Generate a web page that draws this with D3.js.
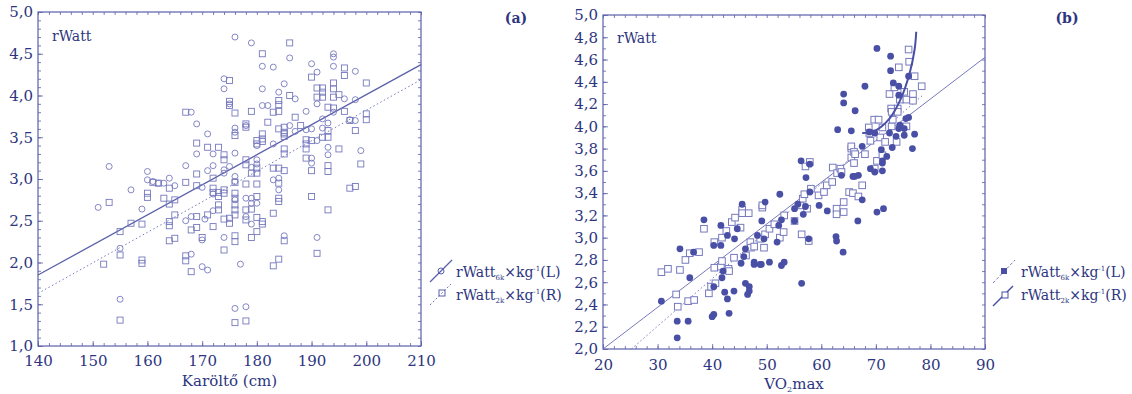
<!DOCTYPE html>
<html>
<head>
<meta charset="utf-8">
<script src="https://cdn.jsdelivr.net/npm/d3@7"></script>
<style>
  body { margin: 0; background: #fff; }
  svg text { font-family: "DejaVu Serif", serif; fill: #2d3580; }
</style>
</head>
<body>
<div id="chart"></div>
<script>
// ---- panel (a): rWatt vs Karöltő (cm) ----
const armO = [151,153,157,155,155,159,160,160,161,162,163,164,165,167,167,168,169,169,170,168,168,170,171,170,171,171,172,172,172,170.5,174,174,175,176,176,176,174,174,175,176,174,176,178,177,176,179,181,183,186,185,181,181,182,184,187,178,180,186,187,189,189,190,183,180,180,179,183,184,184,179,178,179,180,178,179,185,190,191,194,194,194,198,191,194,196,198,197,198,192,192,193,191,193,193,190,190,199,191,176,176,172];
const wattO = [2.66,3.15,2.87,2.17,1.56,2.64,3.09,2.99,2.97,2.95,2.95,3.01,2.92,3.16,2.50,3.80,3.66,3.30,2.90,2.55,2.10,1.95,1.91,2.27,3.54,3.10,3.16,3.30,2.62,2.52,4.20,4.08,3.90,3.61,3.56,3.31,3.11,3.07,3.15,3.03,2.30,1.45,1.47,1.98,4.70,4.63,4.35,4.34,4.45,4.14,4.08,3.88,3.88,4.04,3.96,3.64,3.40,3.64,3.57,3.81,3.59,3.60,3.42,3.23,3.18,3.14,2.99,3.01,2.87,2.77,2.77,2.71,2.71,2.55,2.46,2.32,4.38,4.28,4.50,4.46,4.35,4.29,3.90,3.80,3.96,3.95,3.71,3.70,3.72,3.61,3.67,3.46,3.38,3.29,3.25,3.19,3.34,2.30,2.97,2.75,2.82];
const armS = [153,152,157,155,155,155,159,159,159,160,160,161,163,164,165,164,165,164,164,165,164,167,167,169,169,169,169,169,168,167,167,168,170,171,172,172,172,173,173,173,173,173,172,171,175,175,175,176,176,174,174,174,174,176,176,176,176,176,176,174,175,175,174,176,176,176,178,181,186,179,184,184,183,184,186,187,182,178,178,180,180,181,181,181,184,185,185,185,185,188,189,189,190,185,185,178,178,179,180,180,183,184,185,184,184,184,178,180,180,178,179,180,178,181,181,183,180,179,185,184,183,190,196,196,200,191,192,192,192,191,194,194,194,195,193,194,196,197,200,200,198,193,192,193,195,189,190,193,193,199,197,198,190,193,191,189,162];
const wattS = [2.72,1.98,2.47,2.37,2.09,1.31,2.46,2.03,1.99,2.83,2.78,2.96,2.77,2.89,2.75,2.70,2.57,2.49,2.44,2.29,2.26,2.96,3.80,3.43,3.06,2.92,2.42,2.55,2.39,2.08,2.02,1.89,2.30,3.38,3.01,2.89,2.84,3.38,2.84,2.79,2.69,2.63,2.43,2.57,4.18,3.93,3.88,3.79,3.52,3.29,3.23,2.87,2.83,2.96,2.83,2.77,2.69,2.63,2.57,2.52,2.53,2.47,2.15,2.32,2.25,1.28,1.30,4.50,4.63,3.81,3.94,3.89,3.80,3.81,4.00,3.74,3.68,3.66,3.62,3.46,3.42,3.54,3.48,3.45,3.60,3.62,3.56,3.54,3.51,3.64,3.47,3.42,3.46,3.36,3.30,3.23,3.17,3.07,3.07,3.13,3.13,3.13,3.10,2.95,2.77,2.73,2.94,2.94,2.79,2.63,2.64,2.54,2.51,2.49,2.46,2.59,2.37,2.30,2.26,2.04,1.96,4.22,4.33,4.24,4.15,4.09,4.09,4.04,3.98,3.98,4.15,4.08,3.98,4.01,3.86,3.85,3.81,3.70,3.78,3.71,3.58,3.58,3.50,3.50,3.36,3.25,3.10,3.16,3.09,3.18,2.89,2.91,2.79,2.63,2.11,3.36,2.95];
const fitArmX = [140, 210];
const fitArmL = [1.85, 4.37];
const fitArmR = [1.63, 4.19];
const armXTicks = [140, 150, 160, 170, 180, 190, 200, 210];
const armYTicks = [1.0, 1.5, 2.0, 2.5, 3.0, 3.5, 4.0, 4.5, 5.0];

// ---- panel (b): rWatt vs VO2max ----
const vo2L = [30.7,33.6,33.6,34.1,35.6,35.9,36.6,38.5,40.0,40.3,40.3,40.3,41.6,41.6,42.0,41.8,42.3,42.8,42.8,43.1,44.0,44.1,44.6,45.3,45.5,45.8,46.1,46.1,46.8,46.8,46.5,47.7,47.7,48.3,48.8,49.0,49.1,49.5,49.7,50.5,51.9,52.2,52.4,52.7,52.7,53.2,55.1,55.1,55.7,56.3,56.4,56.7,57.1,57.2,57.9,57.9,57.7,59.6,61.1,62.7,62.8,63.0,63.7,64.0,64.1,64.1,65.5,65.8,66.1,66.2,66.8,66.7,67.5,67.5,68.0,68.8,69.0,69.8,69.8,70.2,70.2,71.0,71.2,71.2,71.2,71.4,72.0,72.5,72.7,72.7,73.0,73.2,73.7,74.2,74.2,74.2,74.4,75.2,75.2,75.5,76.0,76.0,76.7,77.1];
const wattL = [2.43,2.25,2.10,2.90,2.25,2.64,2.87,3.16,2.29,2.31,2.93,2.56,3.11,2.93,2.70,2.64,2.51,3.02,2.45,2.32,2.52,2.99,3.08,2.77,3.30,2.83,2.90,2.59,2.56,2.52,2.49,2.78,2.76,3.02,2.76,2.76,3.15,2.99,3.32,2.78,2.96,3.11,3.39,3.16,2.75,2.78,3.26,3.15,3.30,3.69,2.59,3.21,3.28,3.54,3.41,3.66,2.99,3.29,3.24,3.01,2.97,3.97,3.56,2.87,4.29,4.21,3.96,3.55,3.55,4.14,3.56,3.15,3.82,3.34,4.36,3.95,3.62,3.94,3.59,3.23,4.70,3.79,3.60,3.67,3.69,3.26,3.73,3.94,4.63,4.50,3.81,4.39,3.91,4.36,4.28,3.98,4.01,3.98,3.92,4.07,4.08,4.45,3.80,3.93];
const vo2R = [30.7,31.9,34.1,33.4,33.7,35.1,35.6,35.9,36.7,37.6,38.5,39.4,39.8,40.4,40.4,40.6,41.6,41.8,41.8,42.6,43.0,43.1,43.6,44.2,45.2,44.0,45.5,45.5,46.7,46.2,47.0,47.1,47.7,48.8,49.2,49.2,49.5,49.7,50.5,51.4,52.4,53.1,53.2,55.1,56.1,56.4,56.6,56.9,57.1,57.4,57.7,57.9,58.1,59.5,60.5,61.0,62.0,62.1,62.8,62.8,62.9,63.5,63.7,64.1,64.1,65.1,65.5,65.5,65.5,65.8,66.0,66.2,66.0,66.8,67.5,68.0,68.7,68.8,69.0,69.7,70.5,69.8,70.2,71.2,70.8,71.2,71.7,72.5,72.8,72.9,72.9,73.1,73.4,73.8,74.0,74.0,74.2,74.4,75.2,75.6,75.6,76.0,76.1,76.8,76.8,77.1,78.4];
const wattR = [2.69,2.72,2.71,2.49,2.38,2.80,2.43,2.86,2.44,2.87,3.08,2.50,2.56,2.96,2.73,2.59,2.74,2.79,3.00,3.06,2.72,2.70,3.14,3.18,3.09,2.82,3.25,3.22,3.22,2.84,2.96,2.91,2.92,2.99,3.27,3.29,2.91,3.03,3.08,3.12,3.00,3.05,3.20,3.15,3.29,3.03,3.35,3.39,3.64,3.26,2.97,3.68,3.44,3.38,3.41,3.47,3.50,3.63,3.26,3.21,3.58,3.62,3.59,3.32,3.23,3.41,3.80,3.82,3.72,3.40,3.77,3.75,3.67,3.37,3.47,3.75,3.99,3.94,3.87,4.06,4.06,3.62,3.69,3.99,3.90,3.74,3.86,4.29,4.16,4.13,4.00,4.06,4.35,3.86,4.16,4.13,4.53,4.24,4.31,4.24,4.00,4.69,4.58,4.29,4.23,4.45,4.36];
const fitVo2SolidX = [20, 90];
const fitVo2SolidY = [2.0, 4.62];
const fitVo2DotX = [25.2, 78.6];
const fitVo2DotY = [2.0, 4.28];
const curveVo2X = [67.5, 69.8, 72.5, 74.5, 76.2, 77.1, 77.4];
const curveVo2Y = [3.94, 3.96, 4.07, 4.24, 4.48, 4.69, 4.85];
const vo2XTicks = [20, 30, 40, 50, 60, 70, 80, 90];
const vo2YTicks = [2.0, 2.2, 2.4, 2.6, 2.8, 3.0, 3.2, 3.4, 3.6, 3.8, 4.0, 4.2, 4.4, 4.6, 4.8, 5.0];

const W = 1132, H = 394;
const frameCol = '#5b60aa';
const lightCol = '#7679bd';
const darkCol = '#4a4fa6';
const comma = d => d3.format('.1f')(d).replace('.', ',');

const svg = d3.select('#chart').append('svg')
  .attr('width', W)
  .attr('height', H);

function drawFrame(box, x, y, xTicks, yTicks, xMinor, yMinor) {
  const g = svg.append('g');
  g.append('rect')
    .attr('x', box.left).attr('y', box.top)
    .attr('width', box.right - box.left).attr('height', box.bottom - box.top)
    .attr('fill', 'none').attr('stroke', frameCol).attr('stroke-width', 1.2);

  // inward minor ticks on all four sides
  const sides = [
    [d3.axisBottom(x), `translate(0,${box.bottom})`, xMinor, -3],
    [d3.axisTop(x), `translate(0,${box.top})`, xMinor, -3],
    [d3.axisLeft(y), `translate(${box.left},0)`, yMinor, -3],
    [d3.axisRight(y), `translate(${box.right},0)`, yMinor, -3],
    [d3.axisBottom(x), `translate(0,${box.bottom})`, xTicks, -5],
    [d3.axisLeft(y), `translate(${box.left},0)`, yTicks, -5]
  ];
  sides.forEach(([ax, tr, vals, size]) => {
    const a = g.append('g').attr('transform', tr)
      .call(ax.tickValues(vals).tickSize(size).tickFormat(''));
    a.select('.domain').remove();
    a.selectAll('line').attr('stroke', frameCol).attr('stroke-width', 0.8);
  });

  // labels
  const xl = g.append('g').attr('transform', `translate(0,${box.bottom})`)
    .call(d3.axisBottom(x).tickValues(xTicks).tickSize(0).tickPadding(box.xPad));
  xl.select('.domain').remove();
  xl.selectAll('text').attr('font-size', 15).attr('font-family', null);

  const yl = g.append('g').attr('transform', `translate(${box.left},0)`)
    .call(d3.axisLeft(y).tickValues(yTicks).tickSize(0).tickPadding(5).tickFormat(comma));
  yl.select('.domain').remove();
  yl.selectAll('text').attr('font-size', 15).attr('font-family', null);
}

function legendText(x, y, sub, tag) {
  const t = svg.append('text').attr('x', x).attr('y', y).attr('font-size', 14);
  t.append('tspan').text('rWatt');
  t.append('tspan').attr('font-size', 7).attr('dy', 3).text(sub);
  t.append('tspan').attr('dy', -3).text('×kg');
  t.append('tspan').attr('font-size', 7).attr('dy', -6).text('-1');
  t.append('tspan').attr('dy', 6).text(tag);
}

// ===== panel (a) =====
const boxA = { left: 38, right: 421, top: 12, bottom: 346, xPad: 9 };
const xA = d3.scaleLinear().domain([140, 210]).range([boxA.left, boxA.right]);
const yA = d3.scaleLinear().domain([1, 5]).range([boxA.bottom, boxA.top]);
drawFrame(boxA, xA, yA, armXTicks, armYTicks, d3.range(140, 211, 2), d3.range(1, 5.01, 0.1));

const lineA = d3.line().x(d => xA(d[0])).y(d => yA(d[1]));
svg.append('path').datum(d3.zip(fitArmX, fitArmR))
  .attr('d', lineA).attr('fill', 'none').attr('stroke', lightCol)
  .attr('stroke-width', 1).attr('stroke-dasharray', '1.5,2.5');
svg.append('path').datum(d3.zip(fitArmX, fitArmL))
  .attr('d', lineA).attr('fill', 'none').attr('stroke', frameCol).attr('stroke-width', 1.3);

svg.append('g').selectAll('circle')
  .data(d3.zip(armO, wattO)).join('circle')
  .attr('cx', d => xA(d[0])).attr('cy', d => yA(d[1])).attr('r', 3)
  .attr('fill', 'none').attr('stroke', lightCol).attr('stroke-width', 0.9);
svg.append('g').selectAll('rect')
  .data(d3.zip(armS, wattS)).join('rect')
  .attr('x', d => xA(d[0]) - 3).attr('y', d => yA(d[1]) - 3)
  .attr('width', 6).attr('height', 6)
  .attr('fill', 'none').attr('stroke', lightCol).attr('stroke-width', 0.9);

svg.append('text').attr('x', 52).attr('y', 41).attr('font-size', 14).text('rWatt');
svg.append('text').attr('x', 516).attr('y', 23).attr('font-size', 14)
  .attr('font-weight', 'bold').attr('text-anchor', 'middle').text('(a)');
svg.append('text').attr('x', (boxA.left + boxA.right) / 2).attr('y', 386)
  .attr('font-size', 15).attr('text-anchor', 'middle').text('Karöltő (cm)');

// legend (a)
svg.append('line').attr('x1', 430).attr('y1', 282).attr('x2', 452).attr('y2', 260)
  .attr('stroke', frameCol).attr('stroke-width', 1.2);
svg.append('circle').attr('cx', 441).attr('cy', 271).attr('r', 3)
  .attr('fill', 'none').attr('stroke', frameCol);
legendText(456, 277, '6k', '(L)');
svg.append('line').attr('x1', 430).attr('y1', 305).attr('x2', 451).attr('y2', 284)
  .attr('stroke', lightCol).attr('stroke-dasharray', '2,2');
svg.append('rect').attr('x', 439).attr('y', 290).attr('width', 6).attr('height', 6)
  .attr('fill', 'none').attr('stroke', frameCol);
legendText(456, 300, '2k', '(R)');

// ===== panel (b) =====
const boxB = { left: 603, right: 985, top: 15, bottom: 349, xPad: 10 };
const xB = d3.scaleLinear().domain([20, 90]).range([boxB.left, boxB.right]);
const yB = d3.scaleLinear().domain([2, 5]).range([boxB.bottom, boxB.top]);
drawFrame(boxB, xB, yB, vo2XTicks, vo2YTicks, d3.range(20, 91, 2), d3.range(2, 5.01, 0.1));

const lineB = d3.line().x(d => xB(d[0])).y(d => yB(d[1]));
svg.append('path').datum(d3.zip(fitVo2DotX, fitVo2DotY))
  .attr('d', lineB).attr('fill', 'none').attr('stroke', lightCol)
  .attr('stroke-width', 1).attr('stroke-dasharray', '1.5,2.5');
svg.append('path').datum(d3.zip(fitVo2SolidX, fitVo2SolidY))
  .attr('d', lineB).attr('fill', 'none').attr('stroke', lightCol).attr('stroke-width', 1);

svg.append('g').selectAll('rect')
  .data(d3.zip(vo2R, wattR)).join('rect')
  .attr('x', d => xB(d[0]) - 3.3).attr('y', d => yB(d[1]) - 3.3)
  .attr('width', 6.6).attr('height', 6.6)
  .attr('fill', '#fff').attr('stroke', lightCol).attr('stroke-width', 1);
svg.append('g').selectAll('circle')
  .data(d3.zip(vo2L, wattL)).join('circle')
  .attr('cx', d => xB(d[0])).attr('cy', d => yB(d[1])).attr('r', 3.4)
  .attr('fill', darkCol);

svg.append('path').datum(d3.zip(curveVo2X, curveVo2Y))
  .attr('d', lineB.curve(d3.curveCatmullRom)).attr('fill', 'none')
  .attr('stroke', darkCol).attr('stroke-width', 2);

svg.append('text').attr('x', 617).attr('y', 43).attr('font-size', 14).text('rWatt');
svg.append('text').attr('x', 1067).attr('y', 23).attr('font-size', 14)
  .attr('font-weight', 'bold').attr('text-anchor', 'middle').text('(b)');
const vt = svg.append('text').attr('x', (boxB.left + boxB.right) / 2).attr('y', 389)
  .attr('font-size', 15).attr('text-anchor', 'middle');
vt.append('tspan').text('VO');
vt.append('tspan').attr('font-size', 8).attr('dy', 3).text('2');
vt.append('tspan').attr('dy', -3).text('max');

// legend (b)
svg.append('line').attr('x1', 993).attr('y1', 283).attr('x2', 1015).attr('y2', 260)
  .attr('stroke', lightCol).attr('stroke-dasharray', '3,2');
svg.append('rect').attr('x', 1001).attr('y', 268).attr('width', 6).attr('height', 6)
  .attr('fill', darkCol);
legendText(1021, 277, '6k', '(L)');
svg.append('line').attr('x1', 993).attr('y1', 306).attr('x2', 1013).attr('y2', 286)
  .attr('stroke', darkCol).attr('stroke-width', 1.5);
svg.append('rect').attr('x', 1002).attr('y', 292).attr('width', 6).attr('height', 6)
  .attr('fill', '#fff').attr('stroke', darkCol);
legendText(1021, 300, '2k', '(R)');
</script>
</body>
</html>
